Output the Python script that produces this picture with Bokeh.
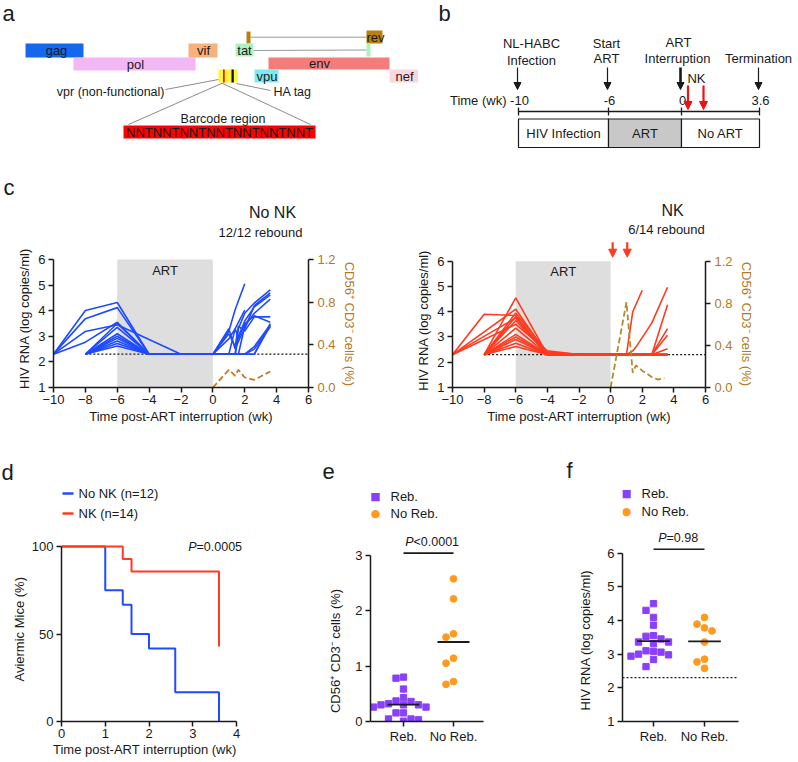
import numpy as np
from bokeh.plotting import figure
from bokeh.layouts import row, column
from bokeh.models import (Range1d, LinearAxis, FixedTicker, Label, Arrow,
                          NormalHead, PrintfTickFormatter)
from bokeh.embed import file_html
from bokeh.resources import INLINE

# ---------------------------------------------------------------- data
N = None
TIMES = [-10, -8, -6, -4, -2, 0, 1, 1.4, 1.6, 2, 2.6, 3.6]
LOD = 2.3

NO_NK_RNA = [
    [2.3, 4.01, 4.32, 2.3, N, 2.3, 3.2, 4.05, N, 5.05, N, N],
    [2.3, 3.69, 4.12, 2.3, N, 2.3, 2.9, 3.3, N, 4.02, N, N],
    [2.3, 3.19, 3.45, N, 2.3, 2.3, 2.3, 2.3, 3.3, 3.9, 4.3, 4.81],
    [2.3, 2.77, 3.55, 2.3, N, 2.3, 2.3, 2.3, 3.0, 3.6, 4.15, 4.62],
    [N, 2.3, 3.5, 2.3, N, 2.3, 3.1, 2.6, 3.4, 3.2, 3.76, 3.76],
    [N, 2.3, 3.1, 2.3, N, 2.3, 2.3, 2.3, 2.3, 3.4, 3.9, 4.45],
    [N, 2.3, 3.0, 2.3, N, 2.3, 2.3, 3.3, 2.9, 3.5, 3.8, 3.55],
    [N, 2.3, 2.92, 2.3, N, 2.3, 2.3, 2.3, 2.3, 2.3, 2.6, 3.45],
    [N, 2.3, 2.82, 2.3, N, 2.3, 2.3, 2.3, 2.3, 2.3, 2.5, 3.37],
    [N, 2.3, 2.72, 2.3, N, 2.3, 2.3, 2.3, 2.3, 2.3, 2.3, 3.5],
    [N, 2.3, 2.62, 2.3, N, 2.3, 2.3, 2.3, 2.3, 2.3, 2.3, 3.42],
    [N, 2.3, 3.35, 2.3, N, 2.3, 3.3, 2.5, 2.8, 3.3, 4.2, 4.7],
]
NK_RNA = [
    [2.3, 3.9, 3.85, 2.3, N, 2.3, 2.3, 4.0, N, 4.85, N, N],
    [2.3, N, 4.1, 2.3, N, 2.3, 2.3, 2.45, 2.6, N, 3.55, 4.97],
    [2.3, N, 3.75, 2.3, N, 2.3, 2.3, 2.3, 2.3, N, 2.3, 4.28],
    [2.3, N, 3.5, 2.45, 2.3, 2.3, 2.3, 2.3, 2.3, N, 2.3, 3.33],
    [N, 2.3, 4.55, 2.3, N, 2.3, 2.3, 2.3, 2.3, N, 2.3, 3.07],
    [N, 2.3, 3.95, 2.4, 2.3, 2.3, 2.3, 2.3, 2.3, N, 2.3, 2.53],
    [N, 2.3, 3.8, 2.3, N, 2.3, 2.3, 2.3, 2.3, N, 2.3, 2.3],
    [N, 2.3, 3.65, 2.3, N, 2.3, 2.3, 2.3, 2.3, N, 2.3, 2.3],
    [N, 2.3, 3.35, 2.3, N, 2.3, 2.3, 2.3, 2.3, N, 2.3, 2.3],
    [N, 2.3, 3.1, 2.3, N, 2.3, 2.3, 2.3, 2.3, N, 2.3, 2.3],
    [N, 2.3, 3.0, 2.3, N, 2.3, 2.3, 2.3, 2.3, N, 2.3, 2.3],
    [N, 2.3, 2.9, 2.3, N, 2.3, 2.3, 2.3, 2.3, N, 2.3, 2.3],
    [N, 2.3, 2.75, 2.3, N, 2.3, 2.3, 2.3, 2.3, N, 2.3, 2.3],
    [N, 2.3, 2.62, 2.3, N, 2.3, 2.3, 2.3, 2.3, N, 2.3, 2.3],
]
CD56_T_NO_NK = [0, 1, 1.4, 1.6, 2, 2.6, 3.6]
CD56_NO_NK = [0, 0.166, 0.11, 0.166, 0.094, 0.072, 0.15]
CD56_T_NK = [0, 1, 1.4, 1.6, 2.0, 2.6, 3.0, 3.4]
CD56_NK = [0, 0.81, 0.14, 0.21, 0.16, 0.10, 0.075, 0.09]
NK_DOSE_WK = [0.13, 1.05]

KM_T_NO_NK = [0, 1, 1.4, 1.6, 2, 2.6, 3.6]
KM_S_NO_NK = [100, 75, 66.7, 50, 41.7, 16.7, 0]
KM_T_NK = [0, 1.4, 1.6, 3.6]
KM_S_NK = [100, 92.9, 85.7, 42.9]

GROUPS = ["Reb.", "No Reb."]
CD56_REB = [0.78, 0.80, 0.585, 0.43, 0.37, 0.36, 0.32, 0.30, 0.30, 0.30,
            0.26, 0.26, 0.155, 0.155, 0.005, 0.03, 0.045, 0.045]
CD56_NOREB = [2.57, 2.21, 1.52, 1.58, 1.14, 1.05, 0.67, 0.72]
RNA_REB = [4.50, 4.30, 4.09, 3.86, 3.55, 3.53, 3.45, 3.36, 3.36, 3.31,
           3.10, 3.08, 3.06, 2.98, 2.94, 3.00, 2.84, 2.63]
RNA_NOREB = [4.09, 3.89, 3.78, 3.69, 3.36, 2.85, 2.77, 2.58]

TIMELINE_WK = [-10, -6, 0, 3.6]
PHASES = ["HIV Infection", "ART", "No ART"]
BARCODE = "NNTNNTNNTNNTNNTNNTNNT"

# ---------------------------------------------------------------- style
FONT = "Liberation Sans"
INK = "#1a1a1a"
BLUE = "#1F4BFF"
RED = "#FF3B1F"
BROWN_L = "#C47A2C"
BROWN_R = "#B08A2E"
BROWN_TXT = "#B07A28"
PURPLE = "#8A3FFC"
ORANGE = "#FF9A1F"
NBSP = "\u00a0"


def pad(s, n, before=False):
    # no-break spaces move an axis title along its axis (titles centre on the whole frame)
    return NBSP * n + s if before else s + NBSP * n


def label(p, x, y, s, size="13px", align="center", baseline="middle",
          color=INK, style="normal", font=FONT):
    p.add_layout(Label(x=x, y=y, text=s, text_font=font, text_font_size=size,
                       text_align=align, text_baseline=baseline,
                       text_color=color, text_font_style=style))


def arrow(p, x0, y0, x1, y1, color=INK, width=1.2, head=7):
    end = NormalHead(size=head, fill_color=color, line_color=color,
                     line_width=1) if head else None
    p.add_layout(Arrow(end=end, x_start=x0, y_start=y0, x_end=x1, y_end=y1,
                       line_color=color, line_width=width))


def canvas(w, h, ox, oy):
    # a drawing surface whose data coordinates are page pixels (y downward)
    p = figure(width=w, height=h, x_range=Range1d(ox, ox + w), y_range=Range1d(oy + h, oy),
               x_axis_type=None, y_axis_type=None, output_backend="svg",
               toolbar_location=None, title=None, min_border=0)
    p.outline_line_color = None
    p.background_fill_color = "white"
    p.border_fill_color = "white"
    return p


class Frame:
    """maps page pixels to data values from two reference points per axis"""
    def __init__(self, xmap, ymap):
        self.xmap, self.ymap = xmap, ymap

    def X(self, px):
        a, pa_, b, pb_ = self.xmap
        return a + (px - pa_) * (b - a) / (pb_ - pa_)

    def Y(self, py):
        a, pa_, b, pb_ = self.ymap
        return a + (py - pa_) * (b - a) / (pb_ - pa_)


def style_axis(ax, size="13px", lab_standoff=3, tick_standoff=3, color=INK):
    ax.axis_line_width = 1.5
    ax.axis_line_color = INK
    ax.major_tick_line_width = 1.5
    ax.major_tick_line_color = INK
    ax.major_tick_out = 5
    ax.major_tick_in = 0
    ax.minor_tick_out = 0
    ax.minor_tick_in = 0
    ax.minor_tick_line_color = None
    ax.major_label_text_font = FONT
    ax.major_label_text_font_size = size
    ax.major_label_text_color = color
    ax.major_label_standoff = tick_standoff
    ax.axis_label_text_font = FONT
    ax.axis_label_text_font_size = size
    ax.axis_label_text_font_style = "normal"
    ax.axis_label_text_color = color
    ax.axis_label_standoff = lab_standoff


def chart(ox, oy, w, h, fl, fr, ft, fb, xmap, ymap):
    F = Frame(xmap, ymap)
    p = figure(width=w, height=h, x_range=Range1d(F.X(fl), F.X(fr)),
               y_range=Range1d(F.Y(fb), F.Y(ft)),
               output_backend="svg", toolbar_location=None, title=None,
               min_border_left=fl - ox, min_border_right=ox + w - fr,
               min_border_top=ft - oy, min_border_bottom=oy + h - fb)
    p.outline_line_color = None
    p.grid.visible = False
    p.background_fill_color = "white"
    p.border_fill_color = "white"
    return p, F


def swarm(vals, center, ypx, xpx, d=7.5):
    order = sorted(range(len(vals)), key=lambda i: -vals[i])
    placed, xs = [], [0.0] * len(vals)
    for i in order:
        y = vals[i] * ypx
        for k in [0, -1, 1, -2, 2, -3, 3, -4, 4]:
            x = k * d
            if all(abs(x - a) >= d - 0.01 or abs(y - b) >= d - 0.01 for a, b in placed):
                break
        placed.append((x, y))
        xs[i] = center + x / xpx
    return xs


# ---------------------------------------------------------------- panel a
pa = canvas(418, 166, 0, 0)
label(pa, 2, 13, "a", size="22px", align="left")
GENE_BOX = {
    "gag": [(25, 43, 83, 57)], "pol": [(73, 57, 195, 70)], "vif": [(188, 43, 217, 57)],
    "rev": [(246, 31, 250, 43), (366, 30, 382, 43)],
    "tat": [(235, 43, 253, 56), (366, 43, 370, 56)],
    "env": [(268, 57, 389, 69)], "vpu": [(254, 69, 278, 82)], "nef": [(389, 69, 418, 82)],
}
GENE_COLOR = {"gag": "#1368EE", "pol": "#F2B8F6", "vif": "#F7B27C", "tat": "#ADF2C2",
              "rev": "#B8800F", "env": "#F47D7B", "vpu": "#7FE9EE", "nef": "#FBD5E0"}
GENE_TEXT = {"gag": (56, 50), "pol": (135, 63.5), "vif": (203, 50), "tat": (244, 50),
             "rev": (375, 36.5), "env": (319, 63), "vpu": (266.5, 75.5), "nef": (404, 75.5)}
pa.segment([250, 253], [36.7, 50], [366, 366], [36.7, 49.5], line_color="#999999", line_width=1)
for g, boxes in GENE_BOX.items():
    for (x0, y0, x1, y1) in boxes:
        pa.quad(left=x0, right=x1, top=y0, bottom=y1, fill_color=GENE_COLOR[g], line_color=None)
    label(pa, GENE_TEXT[g][0], GENE_TEXT[g][1], g, size="13px")
pa.quad(left=218, right=237, top=69, bottom=82, fill_color="#FFF43A", line_color=None)
pa.quad(left=222.5, right=224.2, top=69, bottom=82, fill_color="#E8141C", line_color=None)
pa.quad(left=231, right=233.3, top=69, bottom=82, fill_color="#111111", line_color=None)
pa.segment([218, 236, 221.7, 221.7], [79, 83, 82.7, 82.7], [165, 270, 128, 310], [89, 90, 124, 124],
           line_color="#8c8c8c", line_width=1)
label(pa, 164, 91, "vpr (non-functional)", size="12.5px", align="right")
label(pa, 273, 91, "HA tag", size="12.5px", align="left")
label(pa, 222.5, 118, "Barcode region", size="12.5px")
pa.quad(left=123, right=315, top=125, bottom=138, fill_color="#FF0000", line_color=None)
label(pa, 219, 132, BARCODE, size="13px")

# ---------------------------------------------------------------- panel b
pb = canvas(378, 166, 420, 0)   # drawn 2 px left of the reference so "Termination" fits
label(pb, 440, 12.5, "b", size="22px", align="left")
TL_X = [520, 610, 683, 761]
TL_Y = 111
pb.segment(TL_X[0], TL_Y, TL_X[-1], TL_Y, line_color=INK, line_width=1.3)
pb.segment(TL_X, [TL_Y - 4] * 4, TL_X, [TL_Y + 4] * 4, line_color=INK, line_width=1.3)
for x, wk in zip(TL_X, TIMELINE_WK):
    label(pb, x + 1, 100, f"{wk:g}", size="13px")
label(pb, 508, 100, "Time (wk)", size="13px", align="right")
for i, ph in enumerate(PHASES):
    pb.quad(left=TL_X[i], right=TL_X[i + 1], top=118.5, bottom=147,
            fill_color="#C8C8C8" if ph == "ART" else "white", line_color=INK, line_width=1.2)
    label(pb, (TL_X[i] + TL_X[i + 1]) / 2, 132.5, ph, size="13px")
for i, x in enumerate(TL_X):
    arrow(pb, x - 1, 67, x - 1, 89, width=2.6 if i == 2 else 1.2, head=7)
label(pb, 533, 43, "NL-HABC", size="13px")
label(pb, 533, 60, "Infection", size="13px")
label(pb, 608, 43, "Start", size="13px")
label(pb, 608, 58, "ART", size="13px")
label(pb, 680, 42, "ART", size="13px")
label(pb, 679, 58, "Interruption", size="13px")
label(pb, 760, 58, "Termination", size="13px")
for x in [689.5, 705]:
    arrow(pb, x, 85, x, 109, color="#F01010", width=2.2, head=8)
label(pb, 698, 78, "NK", size="13px")

# ---------------------------------------------------------------- panel c
hc = canvas(796, 34, 0, 166)
label(hc, 3, 186.5, "c", size="22px", align="left")


def c_panel(ox, w, fl, fr, fb, y6, rna, color, cd_t, cd_v, cd_color, title, sub, tpos, spos,
            lpad, rpad, doses=None):
    oy, h, ft = 200, 230, 202
    p, F = chart(ox, oy, w, h, fl, fr, ft, fb, (-10, fl, 6, fr), (1, fb, 6, y6))
    p.quad(left=-6, right=0, bottom=1, top=6, fill_color="#DEDEDE", line_color=None)
    p.line([-8, 6], [LOD, LOD], line_color=INK, line_dash="2 2", line_width=1.2)
    xs, ys = [], []
    for m in rna:
        pts = [(t, v) for t, v in zip(TIMES, m) if v is not None]
        xs.append([a for a, _ in pts])
        ys.append([b for _, b in pts])
    p.multi_line(xs, ys, line_color=color, line_width=1.6)
    top = 1.2 * (F.Y(ft) - 1) / 5.0
    p.extra_y_ranges = {"cd": Range1d(0, top)}
    p.line(cd_t, cd_v, y_range_name="cd", line_color=cd_color, line_dash="6 3", line_width=1.8)
    p.xaxis.ticker = FixedTicker(ticks=list(range(-10, 7, 2)))
    p.yaxis.ticker = FixedTicker(ticks=[1, 2, 3, 4, 5, 6])
    p.yaxis.bounds = (1, 6)
    p.xaxis.axis_label = "Time post-ART interruption (wk)"
    p.yaxis.axis_label = pad("HIV RNA (log copies/ml)", lpad)
    style_axis(p.xaxis[0], lab_standoff=2, tick_standoff=2)
    style_axis(p.yaxis[0], lab_standoff=3, tick_standoff=3)
    ra = LinearAxis(y_range_name="cd", axis_label=pad("CD56⁺ CD3⁻ cells (%)", rpad, before=True),
                    ticker=FixedTicker(ticks=[0, 0.4, 0.8, 1.2]), bounds=(0, 1.2),
                    formatter=PrintfTickFormatter(format="%.1f"))
    p.add_layout(ra, "right")
    style_axis(ra, lab_standoff=3, tick_standoff=4, color=BROWN_TXT)
    ra.axis_line_color = INK
    ra.major_tick_line_color = INK
    label(p, -3, 5.58, "ART", size="13px")
    label(p, F.X(tpos[0]), F.Y(tpos[1]), title, size="16px")
    label(p, F.X(spos[0]), F.Y(spos[1]), sub, size="13px")
    if doses:
        for t in doses:
            arrow(p, t, F.Y(242), t, F.Y(257), color="#FF3B1F", width=2.2, head=8)
    return p


pcl = c_panel(0, 400, 53, 308, 387, 259, NO_NK_RNA, BLUE, CD56_T_NO_NK, CD56_NO_NK, BROWN_L,
              "No NK", "12/12 rebound", (272, 212), (260, 232), 13, 16)
pcr = c_panel(400, 396, 452, 705, 388, 261, NK_RNA, RED, CD56_T_NK, CD56_NK, BROWN_R,
              "NK", "6/14 rebound", (672, 210), (666, 229), 14, 16, doses=NK_DOSE_WK)

# ---------------------------------------------------------------- row d-f header
hd = canvas(796, 56, 0, 430)
label(hd, 1, 472, "d", size="22px", align="left")
label(hd, 322, 470.5, "e", size="22px", align="left")
label(hd, 566, 470, "f", size="22px", align="left")

# ---------------------------------------------------------------- panel d
pd_, F = chart(0, 486, 270, 274, 61, 242, 486, 721, (0, 61, 4, 236), (0, 721, 100, 546))
pd_.step(KM_T_NO_NK, KM_S_NO_NK, mode="after", line_color=BLUE, line_width=2)
pd_.step(KM_T_NK, KM_S_NK, mode="after", line_color=RED, line_width=2)
pd_.xaxis.ticker = FixedTicker(ticks=[0, 1, 2, 3, 4])
pd_.xaxis.bounds = (0, 4)
pd_.yaxis.ticker = FixedTicker(ticks=[0, 50, 100])
pd_.yaxis.bounds = (0, 100)
pd_.xaxis.axis_label = pad("Time post-ART interruption (wk)", 4)
pd_.yaxis.axis_label = pad("Aviermic Mice (%)", 14)
style_axis(pd_.xaxis[0], lab_standoff=1, tick_standoff=2)
style_axis(pd_.yaxis[0], lab_standoff=2, tick_standoff=3)
for yy, col, name in [(493, BLUE, "No NK (n=12)"), (513, RED, "NK (n=14)")]:
    arrow(pd_, F.X(62), F.Y(yy), F.X(73), F.Y(yy), color=col, width=2.5, head=None)
    label(pd_, F.X(78), F.Y(yy), name, size="13px", align="left")
label(pd_, F.X(196), F.Y(546), "P", size="12.5px", align="right", style="italic")
label(pd_, F.X(196), F.Y(546), "=0.0005", size="12.5px", align="left")


# ---------------------------------------------------------------- panels e, f
def dot_panel(ox, w, fl, fr, xmap, ymap, bounds, reb, noreb, ticks, ylab, leg, ptxt, pbound,
              pbar_y, ylab_standoff, lod=None):
    p, F = chart(ox, 486, w, 274, fl, fr, 486, 733, xmap, ymap)
    ypx = (ymap[1] - ymap[3]) / (ymap[2] - ymap[0])
    xpx = (xmap[3] - xmap[1]) / (xmap[2] - xmap[0])
    if lod is not None:
        p.line([F.X(fl), F.X(fr)], [lod, lod], line_color=INK, line_dash="2 2", line_width=1.2)
    p.scatter(swarm(reb, 0, ypx, xpx), reb, marker="square", size=6.3, color=PURPLE)
    p.scatter(swarm(noreb, 1, ypx, xpx), noreb, marker="circle", size=6.8, color=ORANGE)
    for c, vals in [(0, reb), (1, noreb)]:
        m = float(np.mean(vals))
        p.segment(c - 0.32, m, c + 0.32, m, line_color=INK, line_width=1.8)
    p.xaxis.ticker = FixedTicker(ticks=[0, 1])
    p.xaxis.major_label_overrides = {0: GROUPS[0], 1: GROUPS[1]}
    p.yaxis.ticker = FixedTicker(ticks=ticks)
    p.yaxis.bounds = bounds
    p.yaxis.axis_label = ylab
    style_axis(p.xaxis[0], tick_standoff=2)
    style_axis(p.yaxis[0], lab_standoff=ylab_standoff, tick_standoff=3)
    for (mx, my, tx), sym, col, name in [(leg[0], "■", PURPLE, GROUPS[0]),
                                         (leg[1], "●", ORANGE, GROUPS[1])]:
        label(p, F.X(mx), F.Y(my), sym, size="11px", color=col, font="DejaVu Sans")
        label(p, F.X(tx), F.Y(my), name, size="13px", align="left")
    label(p, F.X(pbound[0]), F.Y(pbound[1]), "P", size="12.5px", align="right", style="italic")
    label(p, F.X(pbound[0]), F.Y(pbound[1]), ptxt, size="12.5px", align="left")
    arrow(p, 0, F.Y(pbar_y), 1, F.Y(pbar_y), color=INK, width=1.6, head=None)
    return p


pe = dot_panel(270, 260, 370, 483, (0, 403, 1, 453), (0, 733, 3, 558), (0, 3),
               CD56_REB, CD56_NOREB, [0, 1, 2, 3], pad("CD56⁺ CD3⁻ cells (%)", 26),
               [(375, 497, 390), (375, 514, 390)], "<0.0001", (413, 544), 556, 9)
pf = dot_panel(530, 266, 622, 738, (0, 653, 1, 704), (1, 733, 6, 556), (1, 6),
               RNA_REB, RNA_NOREB, [1, 2, 3, 4, 5, 6], pad("HIV RNA (log copies/ml)", 20),
               [(626, 493, 641), (626, 512, 641)], "=0.98", (666, 540), 552, 11, lod=LOD)

layout = column(row(pa, pb), hc, row(pcl, pcr), hd, row(pd_, pe, pf))
open("out.html", "w").write(file_html(layout, INLINE, title="figure"))
